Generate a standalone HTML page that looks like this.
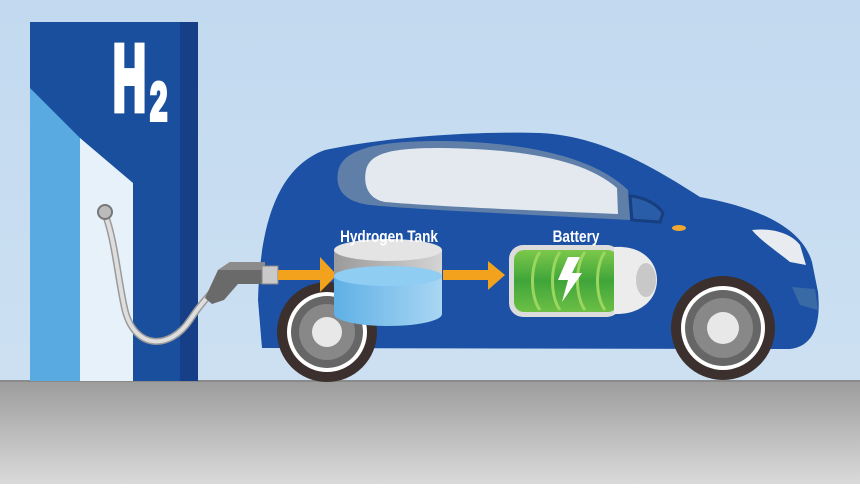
<!DOCTYPE html>
<html><head><style>html,body{margin:0;padding:0;}body{width:860px;height:484px;overflow:hidden;}</style></head>
<body>
<svg width="860" height="484" viewBox="0 0 860 484" xmlns="http://www.w3.org/2000/svg">
<defs>
<linearGradient id="grd" x1="0" y1="0" x2="0" y2="1"><stop offset="0" stop-color="#9c9c9c"/><stop offset="1" stop-color="#dadada"/></linearGradient>
<linearGradient id="sky" x1="0" y1="0" x2="0" y2="1"><stop offset="0" stop-color="#c2d9ef"/><stop offset="1" stop-color="#cfe2f3"/></linearGradient>
<linearGradient id="water" x1="0" y1="0" x2="1" y2="0"><stop offset="0" stop-color="#5fb0e6"/><stop offset="1" stop-color="#a9d6f3"/></linearGradient>
<linearGradient id="tankg" x1="0" y1="0" x2="1" y2="0"><stop offset="0" stop-color="#9a9a9a"/><stop offset="1" stop-color="#d4d4d4"/></linearGradient>
<linearGradient id="bat" x1="0" y1="0" x2="0" y2="1"><stop offset="0" stop-color="#7cc84a"/><stop offset="0.5" stop-color="#3fa53a"/><stop offset="1" stop-color="#6cbf45"/></linearGradient>
</defs>
<rect width="860" height="484" fill="url(#sky)"/>
<rect x="0" y="381" width="860" height="103" fill="url(#grd)"/>
<rect x="0" y="380" width="860" height="2" fill="#8a8a8a"/>
<!-- station -->
<rect x="30" y="22" width="168" height="359" fill="#1a4f9e"/>
<rect x="180" y="22" width="18" height="359" fill="#163f88"/>
<polygon points="30,88 80,138 80,381 30,381" fill="#5aaae2"/>
<polygon points="80,138 133,183 133,381 80,381" fill="#e6f1fa"/>
<text x="0" y="0" font-family="Liberation Sans, sans-serif" font-weight="bold" font-size="95" fill="#fff" stroke="#fff" stroke-width="7" stroke-linejoin="miter" transform="translate(113 110) scale(0.48 0.98)">H</text>
<text x="0" y="0" font-family="Liberation Sans, sans-serif" font-weight="bold" font-size="54" fill="#fff" stroke="#fff" stroke-width="4" transform="translate(150 120) scale(0.58 1)">2</text>
<!-- hose -->
<path d="M105 214 C115 240 118 280 125 310 C135 350 170 350 190 320 C200 305 205 300 212 292" stroke="#9a9a9a" stroke-width="7" fill="none"/>
<path d="M105 214 C115 240 118 280 125 310 C135 350 170 350 190 320 C200 305 205 300 212 292" stroke="#dedede" stroke-width="4" fill="none"/>
<circle cx="105" cy="212" r="7" fill="#bbb" stroke="#777" stroke-width="2"/>
<!-- car body -->
<path d="M262 348 L258 300 C260 230 275 168 325 150 C380 138 470 131 540 133 C600 136 650 165 700 197 C760 208 802 228 812 262 L818 292 C821 322 815 346 790 349 Z" fill="#1c51a5"/>
<!-- windows -->
<path d="M338 172 C342 148 380 141 440 141 C530 142 595 158 628 190 L630 220 C540 215 420 210 370 205 C345 202 335 190 338 172Z" fill="#5f7fa9"/>
<path d="M366 170 C370 152 395 148 440 148 C525 149 585 160 617 188 L618 214 C540 211 430 206 385 202 C368 199 363 185 366 170Z" fill="#e4e9ef"/>
<path d="M630 196 C645 197 658 205 663 213 L660 222 L632 220 Z" fill="#2a5da8" stroke="#173f80" stroke-width="3"/>
<ellipse cx="679" cy="228" rx="7" ry="3" fill="#f2a830"/>
<path d="M752 230 C770 228 790 232 800 245 L806 265 L790 262 C775 250 760 240 752 230Z" fill="#e8ecf1"/>
<path d="M792 287 L815 289 L818 310 L800 305Z" fill="#3a6aa6"/>
<!-- wheels -->
<g>
<circle cx="327" cy="332" r="50" fill="#3b302d"/><circle cx="327" cy="332" r="40" fill="#fff"/><circle cx="327" cy="332" r="36" fill="#666"/><circle cx="327" cy="332" r="28" fill="#888"/><circle cx="327" cy="332" r="15" fill="#e8e8e8"/>
</g>
<g>
<circle cx="723" cy="328" r="52" fill="#3b302d"/><circle cx="723" cy="328" r="42" fill="#fff"/><circle cx="723" cy="328" r="38" fill="#666"/><circle cx="723" cy="328" r="30" fill="#888"/><circle cx="723" cy="328" r="16" fill="#e8e8e8"/>
</g>
<!-- nozzle -->
<polygon points="205,298 218,270 230,262 265,262 265,284 238,284 224,300 212,304" fill="#6a6a6a"/>
<polygon points="218,270 230,262 265,262 265,270 232,270" fill="#8c8c8c"/>
<rect x="262" y="266" width="16" height="18" fill="#c9c9c9" stroke="#888"/>
<!-- arrows -->
<rect x="278" y="270" width="44" height="10" fill="#f2a21c"/>
<polygon points="320,257 337,275 320,292" fill="#f2a21c"/>
<rect x="443" y="270" width="48" height="10" fill="#f2a21c"/>
<polygon points="488,261 505,275 488,290" fill="#f2a21c"/>
<!-- tank -->
<path d="M334 250 L334 312 A54 12 0 0 0 442 312 L442 250 Z" fill="url(#tankg)"/>
<path d="M334 276 L334 314 A54 12 0 0 0 442 314 L442 276 Z" fill="url(#water)"/>
<ellipse cx="388" cy="276" rx="54" ry="10" fill="#8fcdf2"/>
<ellipse cx="388" cy="250" rx="54" ry="11" fill="#e4e4e4"/>
<text x="0" y="0" text-anchor="middle" font-family="Liberation Sans, sans-serif" font-weight="bold" font-size="17" fill="#fff" transform="translate(389 242) scale(0.8 1)">Hydrogen Tank</text>
<!-- battery -->
<rect x="509" y="245" width="112" height="72" rx="14" fill="#dcdcdc"/>
<rect x="514" y="250" width="104" height="62" rx="10" fill="url(#bat)"/>
<path d="M540 252 C530 265 530 297 540 310 M560 252 C550 265 550 297 560 310 M585 252 C575 265 575 297 585 310 M605 252 C595 265 595 297 605 310" stroke="#9bd65e" stroke-width="3" fill="none"/>
<path d="M614 247 C640 245 657 260 657 280 C657 300 640 315 614 314 Z" fill="#ececec"/>
<ellipse cx="646" cy="280" rx="10" ry="17" fill="#c8c8c8"/>
<polygon points="568,257 580,257 572,273 582,273 562,302 568,280 558,280" fill="#fff"/>
<text x="0" y="0" text-anchor="middle" font-family="Liberation Sans, sans-serif" font-weight="bold" font-size="17" fill="#fff" transform="translate(576 242) scale(0.8 1)">Battery</text>
</svg>
</body></html>
